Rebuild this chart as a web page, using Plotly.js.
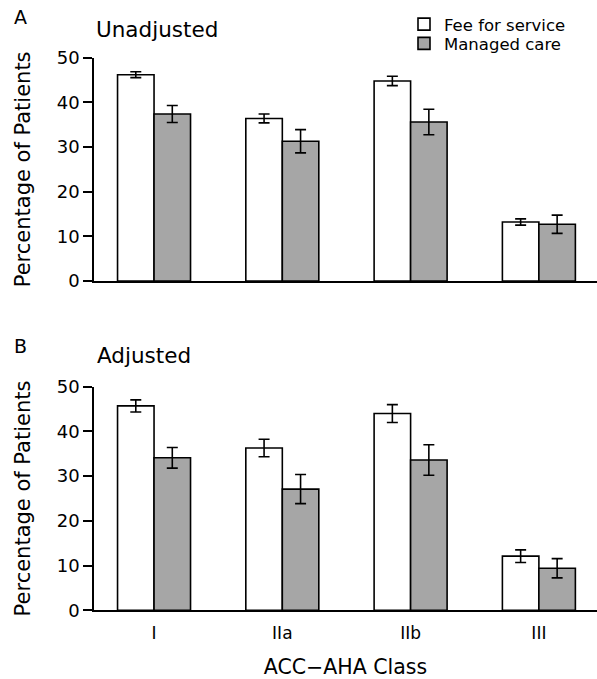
<!DOCTYPE html>
<html>
<head>
<meta charset="utf-8">
<script src="https://cdn.plot.ly/plotly-3.0.1.min.js"></script>
<style>html,body{margin:0;padding:0;background:#fff;}#chart{width:597px;height:679px;}</style>
</head>
<body>
<div id="chart"></div>
<script>
const categories = ['I', 'IIa', 'IIb', 'III'];
const seriesNames = ['Fee for service', 'Managed care'];

const ffsUnadjusted = [46.2, 36.4, 44.8, 13.2];
const ffsUnadjustedErr = [0.65, 1.0, 1.05, 0.7];
const mcUnadjusted = [37.4, 31.3, 35.6, 12.7];
const mcUnadjustedErr = [1.9, 2.6, 2.85, 2.05];

const ffsAdjusted = [45.7, 36.3, 44.0, 12.1];
const ffsAdjustedErr = [1.35, 1.95, 2.0, 1.4];
const mcAdjusted = [34.1, 27.1, 33.6, 9.4];
const mcAdjustedErr = [2.3, 3.25, 3.4, 2.15];

const yTicks = [0, 10, 20, 30, 40, 50];

const FONT = 'DejaVu Sans, Liberation Sans, Arial, sans-serif';
const FFS_COLOR = '#ffffff';
const MC_COLOR = '#a6a6a6';

function barTrace(name, y, err, color, xa, ya, showlegend, legend) {
  return {
    type: 'bar',
    name: name,
    x: categories,
    y: y,
    xaxis: xa,
    yaxis: ya,
    marker: {color: color, line: {color: '#000', width: 1.6}},
    error_y: {type: 'data', array: err, visible: true, color: '#000', thickness: 1.6, width: 5.5},
    showlegend: showlegend,
    legend: legend,
    legendgroup: name,
    hoverinfo: 'x+y'
  };
}

const data = [
  barTrace(seriesNames[0], ffsUnadjusted, ffsUnadjustedErr, FFS_COLOR, 'x', 'y', true, 'legend'),
  barTrace(seriesNames[1], mcUnadjusted, mcUnadjustedErr, MC_COLOR, 'x', 'y', true, 'legend2'),
  barTrace(seriesNames[0], ffsAdjusted, ffsAdjustedErr, FFS_COLOR, 'x2', 'y2', false, 'legend'),
  barTrace(seriesNames[1], mcAdjusted, mcAdjustedErr, MC_COLOR, 'x2', 'y2', false, 'legend2')
];

const xRange = [-0.468, 3.453];

function yAxis(domain, anchor) {
  return {
    domain: domain,
    anchor: anchor,
    range: [0, 50],
    tickvals: yTicks,
    ticktext: yTicks.map(String),
    ticks: 'outside',
    ticklen: 9,
    tickwidth: 1.5,
    tickcolor: '#000',
    showline: true,
    linewidth: 1.5,
    linecolor: '#000',
    showgrid: false,
    zeroline: false,
    automargin: false,
    tickfont: {family: FONT, size: 18, color: '#000'},
    title: {text: 'Percentage of Patients', standoff: 20, font: {family: FONT, size: 21, color: '#000'}},
    fixedrange: true
  };
}

const layout = {
  width: 597,
  height: 679,
  margin: {l: 94, r: 0, t: 0, b: 0},
  paper_bgcolor: '#fff',
  plot_bgcolor: '#fff',
  barmode: 'group',
  bargap: 0.431,
  bargroupgap: 0,
  font: {family: FONT, color: '#000'},
  xaxis: {
    domain: [0, 1], anchor: 'y', type: 'category', range: xRange,
    showline: true, linewidth: 1.5, linecolor: '#000',
    showticklabels: false, ticks: '', showgrid: false, zeroline: false, automargin: false, fixedrange: true
  },
  xaxis2: {
    domain: [0, 1], anchor: 'y2', type: 'category', range: xRange,
    showline: true, linewidth: 1.5, linecolor: '#000',
    ticks: '', ticklabelstandoff: 7, showgrid: false, zeroline: false, automargin: false, fixedrange: true,
    tickfont: {family: FONT, size: 17, color: '#000'},
    title: {text: 'ACC\u2212AHA Class', standoff: 22, font: {family: FONT, size: 20.5, color: '#000'}}
  },
  yaxis: yAxis([0.5862, 0.9150], 'x'),
  yaxis2: yAxis([0.1012, 0.4305], 'x2'),
  legend: {
    x: 0.6163, y: 1 - 24.4 / 679, xanchor: 'left', yanchor: 'middle',
    bgcolor: 'rgba(0,0,0,0)', borderwidth: 0,
    font: {family: FONT, size: 16.5, color: '#000'},
    itemclick: false, itemdoubleclick: false
  },
  legend2: {
    x: 0.6163, y: 1 - 43.6 / 679, xanchor: 'left', yanchor: 'middle',
    bgcolor: 'rgba(0,0,0,0)', borderwidth: 0,
    font: {family: FONT, size: 16.5, color: '#000'},
    itemclick: false, itemdoubleclick: false
  },
  annotations: [
    {text: 'A', xref: 'paper', yref: 'paper', x: (20.5 - 94) / 503, y: 1 - 16.5 / 679, xanchor: 'center', yanchor: 'middle', showarrow: false, font: {family: FONT, size: 19, color: '#000'}},
    {text: 'Unadjusted', xref: 'paper', yref: 'paper', x: (94 - 94) / 503, y: 1 - 30 / 679, xanchor: 'left', yanchor: 'middle', showarrow: false, font: {family: FONT, size: 21.5, color: '#000'}},
    {text: 'B', xref: 'paper', yref: 'paper', x: (20.5 - 94) / 503, y: 1 - 346 / 679, xanchor: 'center', yanchor: 'middle', showarrow: false, font: {family: FONT, size: 19, color: '#000'}},
    {text: 'Adjusted', xref: 'paper', yref: 'paper', x: (95 - 94) / 503, y: 1 - 355 / 679, xanchor: 'left', yanchor: 'middle', showarrow: false, font: {family: FONT, size: 21.5, color: '#000'}}
  ]
};

Plotly.newPlot('chart', data, layout, {displayModeBar: false, staticPlot: false, responsive: false});
</script>
</body>
</html>
